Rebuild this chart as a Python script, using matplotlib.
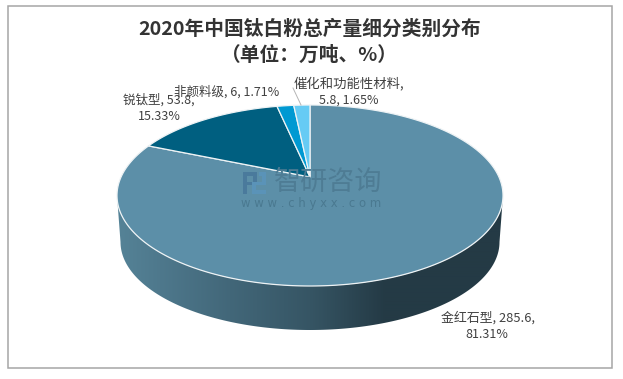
import numpy as np
import matplotlib
matplotlib.use("Agg")
import matplotlib.pyplot as plt
from matplotlib.patches import Polygon, Rectangle

plt.rcParams['font.family'] = ['Noto Sans CJK SC', 'DejaVu Sans']

categories = ['金红石型', '锐钛型', '非颜料级', '催化和功能性材料']
values = [285.6, 53.8, 6, 5.8]
percents = ['81.31%', '15.33%', '1.71%', '1.65%']
colors = ['#5c8fa8', '#005f80', '#0099d2', '#66cbf4']

W, H = 623, 379
fig = plt.figure(figsize=(W / 100, H / 100), dpi=100)
ax = fig.add_axes([0, 0, 1, 1])
ax.set_xlim(0, W)
ax.set_ylim(H, 0)
ax.axis('off')

ax.add_patch(Rectangle((7.5, 5.5), 604.5, 362.5, fc='white', ec='#a6a6a6', lw=1.1))

# perspective pie geometry
cx, cy, rx, ry, apex_y = 310, 195.5, 193, 90.5, 177
a = (apex_y - cy) / ry


def project(theta, r=1.0):
    u = r * np.sin(theta)
    v = -r * np.cos(theta)
    den = 1 + a * v
    return cx + rx * u * np.sqrt(1 - a ** 2) / den, cy + ry * (v + a) / den


# side wall
t = np.linspace(0, np.pi, 200)
bx, by = cx - 189.5 * np.cos(t), (cy + 46.5) + 88 * np.sin(t)
tx, ty = cx + rx * np.cos(t), cy + ry * np.sin(t)
wall = Polygon(np.column_stack([np.r_[bx, tx], np.r_[by, ty]]), closed=True,
               fc='none', ec='none', transform=ax.transData)
ax.add_patch(wall)
stops_x = [117, 160, 230, 310, 385, 503]
stops = np.array([[0x55, 0x83, 0x97], [0x4e, 0x78, 0x8c], [0x42, 0x67, 0x79],
                  [0x36, 0x55, 0x64], [0x24, 0x3a, 0x45], [0x24, 0x3a, 0x45]]) / 255
xs = np.arange(117, 504)
grad = np.stack([np.interp(xs, stops_x, stops[:, i]) for i in range(3)], axis=-1)[None, :, :]
im = ax.imshow(grad, extent=(117, 504, 335, 190), aspect='auto', zorder=1.5, interpolation='bilinear')
im.set_clip_path(wall)
ax.set_xlim(0, W)
ax.set_ylim(H, 0)

# top face slices
fracs = np.array(values) / np.sum(values)
edges = np.r_[0, np.cumsum(fracs)] * 2 * np.pi
for c, s, e in zip(colors, edges[:-1], edges[1:]):
    th = np.linspace(s, e, max(int((e - s) * 60), 8))
    x, y = project(th)
    px, py = project(0.0, 0.0)
    ax.add_patch(Polygon(np.column_stack([np.r_[px, x], np.r_[py, y]]), closed=True,
                         fc=c, ec='#eef3f5', lw=0.9, zorder=2, joinstyle='round'))

# leader line
ax.plot([293, 301], [88, 105], color='#b5b5b5', lw=0.7, zorder=3)

# title
ax.text(310, 29, '2020年中国钛白粉总产量细分类别分布', ha='center', va='center',
        fontsize=14.2, fontweight='bold', color='#333333', zorder=4)
ax.text(309, 55, '（单位：万吨、%）', ha='center', va='center',
        fontsize=14.2, fontweight='bold', color='#333333', zorder=4)

# data labels
lab = dict(ha='center', va='center', fontsize=9.0, color='#404040', zorder=4)
ax.text(159, 100, f'{categories[1]}, {values[1]},', **lab)
ax.text(159, 117, percents[1], **lab)
ax.text(227, 92, f'{categories[2]}, {values[2]}, {percents[2]}', **lab)
ax.text(349, 83, f'{categories[3]},', fontsize=9.6, ha='center', va='center', color='#404040', zorder=4)
ax.text(349, 100, f'{values[3]}, {percents[3]}', **lab)
ax.text(488, 318, f'{categories[0]}, {values[0]},', fontsize=9.3, ha='center', va='center', color='#404040', zorder=4)
ax.text(487, 335, percents[0], **lab)

# watermark logo
dark, light = '#4a7a9c', '#5a93b8'
for (x0, y0, w, h, col) in [(243, 172, 14, 4, dark), (243, 172, 4, 22, dark), (253, 172, 4, 12, dark),
                            (243, 182, 14, 3, dark), (259, 172, 7, 4, light), (262, 172, 4, 12, light),
                            (252, 182, 14, 3, light), (252, 182, 4, 12, light), (252, 190, 14, 4, light)]:
    ax.add_patch(Rectangle((x0, y0), w, h, fc=col, ec='none', zorder=3))
ax.text(328, 182.5, '智研咨询', ha='center', va='center', fontsize=19.5, fontweight='medium',
        color='#4e7c94', zorder=3)
ax.text(311, 203.5, 'w w w . c h y x x . c o m', ha='center', va='center', fontsize=8.4,
        color='#4a7990', zorder=3, family=['DejaVu Sans'])

fig.savefig('out.png', dpi=100)
